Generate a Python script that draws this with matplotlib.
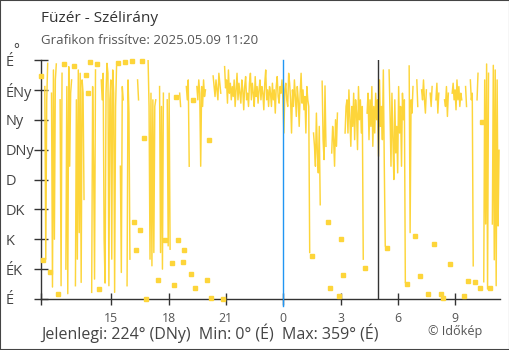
import numpy as np
import pandas as pd
import matplotlib
matplotlib.use("Agg")
import matplotlib.pyplot as plt
import matplotlib.dates as mdates
import matplotlib.transforms as mtransforms
from matplotlib.patches import Rectangle

plt.rcParams['font.family'] = ['Open Sans', 'DejaVu Sans']

station = "Füzér"
updated = "2025.05.09 11:20"
start = "2025-05-08 11:20"
end = "2025-05-09 11:20"
midnight = "2025-05-09 00:00"
sunrise = "2025-05-09 04:56"

dir_ticks = [0, 45, 90, 135, 180, 225, 270, 315, 360]
dir_labels = ["É", "ÉK", "K", "DK", "D", "DNy", "Ny", "ÉNy", "É"]
hour_ticks = [15, 18, 21, 0, 3, 6, 9]

current_deg, current_name = 224, "DNy"
min_deg, min_name = 0, "É"
max_deg, max_name = 359, "É"

# wind direction every 3 minutes, one row per hour from 11:20 (None = no line drawn)
wind_dir = [
    [336, None, 59, None, 320, 60, 300, 355, None, 41, None, 310, 18, 345, 90, 330, 354, None, 8, None],
    [300, 20, 340, None, 354, None, 45, 320, 8, 350, 200, 310, 330, None, 351, None, 20, 300, 60, 345],
    [100, 340, 25, 330, 310, 150, None, 337, None, 310, None, 357, None, 10, 320, 200, 30, 345, None, 354],
    [None, 15, None, 330, 300, 340, 90, 24, 310, 355, 340, 20, 300, 330, 60, 345, 310, 10, 290, 350],
    [None, 355, None, 200, 40, 320, 300, None, 357, None, 20, 330, 280, 60, None, 359, None, 116, None, 74],
    [None, 330, 300, None, 104, None, 358, None, 243, None, 0, None, 359, 290, 60, 310, 50, 300, 70, 290],
    [300, None, 29, None, 320, 70, 290, 45, 310, None, 89, None, 300, 80, 310, 75, None, 54, None, 21],
    [None, 305, None, 89, None, 310, 290, None, 56, None, 74, None, 320, 300, 330, 200, None, 38, None, 300],
    [None, 17, None, 320, 300, 330, 310, 200, 320, 290, 330, 305, 315, None, 29, None, 240, None, 2, None],
    [336, 320, 305, 330, 315, 300, 340, 325, 310, None, 0, None, 350, 318, 330, 295, 345, 310, 325, 300],
    [320, 305, 330, 290, 315, 340, 300, 325, 310, 295, 330, 315, 285, 320, 335, 300, 310, 290, 325, 340],
    [300, 325, 310, 290, 335, 305, 320, 295, 315, 330, 300, 320, 310, 285, 325, 345, 300, 315, 290, 320],
    [310, 290, 325, 300, 315, 280, 320, 335, 305, 295, 320, 310, 330, 300, 250, 315, 325, 300, 290, 340],
    [325, 300, 250, 315, 290, 330, 305, 275, 320, 300, 260, 310, 340, 295, 315, 285, 305, 250, 320, 300],
    [290, 70, None, 65, None, 250, 230, 200, 280, 220, 190, 260, 142, None, 328, 240, 210, 321, 230, None],
    [116, None, 17, None, 220, 260, 240, 200, 270, 230, 280, None, 5, None, 90, None, 36, None, 250, 290],
    [300, 250, 315, 270, 230, 290, 260, 310, 240, 300, 280, 225, 320, 270, 300, 250, 290, 60, None, 47],
    [None, 280, 310, 240, 300, 260, 320, 230, 290, 250, 310, 270, 300, 215, 330, 260, 290, 240, 345, 200],
    [80, None, 77, None, 345, 280, 200, 310, 240, 180, 300, 220, 260, 190, 320, 250, 290, 200, 310, 270],
    [300, 25, None, 23, None, 351, 100, 300, 280, 320, None, 95, None, 330, 290, None, 35, None, 315, 300],
    [330, 300, 280, 315, None, 8, None, 310, 290, 320, None, 83, None, 300, 325, 280, 310, None, 8, None],
    [2, None, 300, 290, 320, 275, 310, None, 53, None, 310, 325, 300, 315, 285, 330, 300, 320, 290, 310],
    [300, None, 5, None, 320, 290, None, 27, None, 330, 300, 310, 50, None, 26, None, 300, 340, None, 17],
    [None, 266, None, 26, 330, 113, 354, 15, 340, None, 17, None, 113, 352, 59, 345, 20, 330, 110, 224],
]

yellow = "#fdd53a"
dark = "#333333"
grey = "#555555"
label_grey = "#444444"

vals = np.array([v for row in wind_dir for v in row], dtype=float)
times = pd.date_range(start, periods=len(vals), freq="3min")

# a reading with no neighbour on either side gets a square marker
gap = np.isnan(vals)
prev_gap = np.r_[True, gap[:-1]]
next_gap = np.r_[gap[1:], True]
single = ~gap & prev_gap & next_gap

fig = plt.figure(figsize=(5.1, 3.5), dpi=100)
ax = fig.add_axes([41 / 510, 51 / 350, 459 / 510, 239 / 350])

ax.plot(times, vals, color=yellow, lw=1.05, zorder=3)
ax.plot(times[single], vals[single], "s", ms=3.2, color=yellow, lw=0,
        zorder=3, clip_on=False)

ax.axvline(pd.Timestamp(midnight), ymin=-0.03, color="#2196f3", lw=1.0,
           zorder=4, clip_on=False)
ax.axvline(pd.Timestamp(sunrise), color=dark, lw=1.0, zorder=4)

ax.set_xlim(pd.Timestamp(start), pd.Timestamp(end))
ax.set_ylim(0, 360)

ax.xaxis.set_major_locator(mdates.HourLocator(byhour=hour_ticks))
ax.xaxis.set_major_formatter(
    plt.FuncFormatter(lambda x, pos: str(mdates.num2date(x).hour)))
ax.set_xticks([mdates.date2num(pd.Timestamp(start))], minor=True)
ax.set_yticks(dir_ticks)

ax.tick_params(axis="x", which="both", direction="inout", length=9, width=1,
               color=dark, labelsize=8.8, labelcolor=grey, pad=4.5)
ax.tick_params(axis="y", direction="inout", length=9.5, width=1, color=dark,
               labelleft=False)

# compass labels sit flush left at the figure edge, nudged 2px down
label_tr = mtransforms.blended_transform_factory(fig.transFigure, ax.transData)
label_tr = label_tr + mtransforms.ScaledTranslation(0, -2 / 100,
                                                    fig.dpi_scale_trans)
for deg, name in zip(dir_ticks, dir_labels):
    ax.text(6 / 510, deg, name, transform=label_tr, fontsize=10.5,
            color=label_grey, ha="left", va="center")

for side in ("top", "right"):
    ax.spines[side].set_visible(False)
for side in ("left", "bottom"):
    ax.spines[side].set_color(dark)
    ax.spines[side].set_linewidth(1.0)

fig.text(16 / 510, 1 - 50 / 350, "°", fontsize=10, color=label_grey,
         ha="center", va="center")

fig.text(41 / 510, 1 - 18 / 350, f"{station} - Szélirány", fontsize=11.1,
         color=dark, va="center")
fig.text(41 / 510, 1 - 41 / 350, f"Grafikon frissítve: {updated}",
         fontsize=9.5, color=grey, va="center")

summary = (f"Jelenlegi: {current_deg}° ({current_name})  "
           f"Min: {min_deg}° ({min_name})  Max: {max_deg}° ({max_name})")
fig.text(41 / 510, 1 - 333 / 350, summary, fontsize=11.5, color=label_grey,
         va="center")
fig.text(482 / 510, 1 - 331 / 350, "© Időkép", fontsize=9.1, color=grey,
         va="center", ha="right")

fig.patches.append(Rectangle((0, 0), 1, 1, transform=fig.transFigure,
                             fill=False, edgecolor=label_grey, lw=1.5))

fig.savefig("out.png", dpi=100)
